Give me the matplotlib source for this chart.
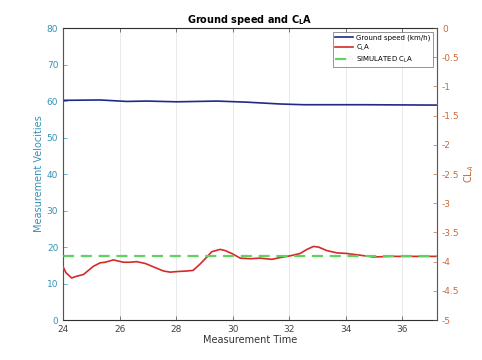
import matplotlib
matplotlib.use("Agg")
import matplotlib.pyplot as plt
import numpy as np

# Ground speed (left axis, km/h)
speed_t = [24.0, 25.31, 26.25, 26.96, 28.02, 29.44, 30.5, 31.68, 32.51, 34.63, 37.2]
speed_v = [60.2, 60.3, 59.9, 60.0, 59.8, 60.0, 59.7, 59.2, 59.0, 59.0, 58.9]

# Measured CLA (right axis)
cla_t = [24.0, 24.1, 24.3, 24.48, 24.72, 25.07, 25.31, 25.49, 25.78, 26.13,
         26.37, 26.6, 26.9, 27.2, 27.55, 27.79, 28.02, 28.38, 28.6, 28.85,
         29.09, 29.26, 29.56, 29.73, 29.97, 30.27, 30.62, 30.97, 31.39, 31.68,
         32.04, 32.39, 32.63, 32.86, 33.04, 33.33, 33.69, 34.04, 34.51, 34.98,
         35.58, 36.17, 37.2]
cla_v = [-4.09, -4.19, -4.28, -4.25, -4.22, -4.08, -4.02, -4.01, -3.97, -4.01,
         -4.01, -4.00, -4.03, -4.09, -4.16, -4.18, -4.17, -4.16, -4.15, -4.04,
         -3.92, -3.83, -3.79, -3.81, -3.86, -3.94, -3.95, -3.94, -3.96, -3.93,
         -3.90, -3.86, -3.79, -3.74, -3.75, -3.81, -3.85, -3.86, -3.89, -3.92,
         -3.91, -3.91, -3.91]

sim_cla = -3.91

left_color = "#3392b8"
right_color = "#c96a3a"

fig = plt.figure(figsize=(4.82, 3.6), dpi=100)
ax = fig.add_axes([0.131, 0.111, 0.776, 0.811])
ax2 = ax.twinx()

l1, = ax.plot(speed_t, speed_v, color="#1f2a8a", lw=1.2, label="Ground speed (km/h)")
l2, = ax2.plot(cla_t, cla_v, color="#d42a2a", lw=1.2, label=r"C$\mathregular{_L}$A")
l3 = ax2.axhline(sim_cla, color="#5fd35f", lw=1.6, ls=(0, (5, 3)),
                 label=r"SIMULATED C$\mathregular{_L}$A")

ax.set_xlim(24, 37.24)
ax.set_ylim(0, 80)
ax2.set_ylim(-5, 0)
ax.set_xticks(np.arange(24, 37, 2))
ax.set_yticks(np.arange(0, 81, 10))
ax2.set_yticks(np.arange(-5, 0.01, 0.5))
ax2.set_yticklabels(["-5", "-4.5", "-4", "-3.5", "-3", "-2.5", "-2", "-1.5", "-1", "-0.5", "0"])

ax.grid(axis="x", color="#e6e6e6", lw=0.6)
ax.tick_params(axis="both", direction="in", labelsize=6.5, length=3, width=0.5)
ax.tick_params(axis="x", top=True, colors="#444444")
ax.tick_params(axis="y", colors=left_color)
ax2.tick_params(axis="y", direction="in", labelsize=6.5, length=3, width=0.5, colors=right_color)

for s in ["top", "bottom"]:
    ax2.spines[s].set_color("#444444")
    ax2.spines[s].set_linewidth(0.5)
ax2.spines["left"].set_color(left_color)
ax2.spines["right"].set_color(right_color)
ax2.spines["left"].set_linewidth(0.5)
ax2.spines["right"].set_linewidth(0.5)

ax.set_xlabel("Measurement Time", fontsize=7, color="#333333", labelpad=1)
ax.set_ylabel("Measurement Velocities", fontsize=7, color=left_color, labelpad=2)
ax2.set_ylabel(r"CL$_A$", fontsize=7, color=right_color, rotation=90, labelpad=2)
ax.set_title(r"Ground speed and C$\mathregular{_L}$A", fontsize=7, fontweight="bold", pad=4)

leg = ax2.legend(handles=[l1, l2, l3], loc="upper right", fontsize=5,
                 frameon=True, fancybox=False, edgecolor="#444444",
                 borderaxespad=0.6, handlelength=2.6, labelspacing=0.25,
                 borderpad=0.35, handletextpad=0.4)
leg.get_frame().set_linewidth(0.5)

fig.savefig("out.png", dpi=100)
